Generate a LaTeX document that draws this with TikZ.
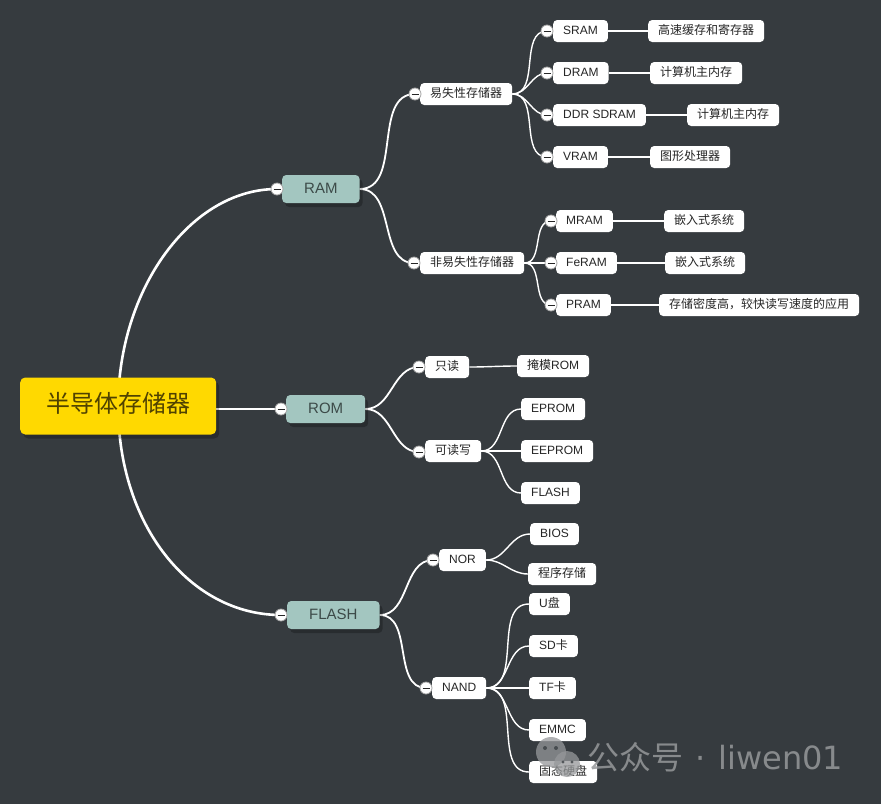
\documentclass[tikz,border=0pt]{standalone}
\usepackage{fontspec}
\setmainfont{Liberation Sans}
\newfontfamily\cjk{Noto Sans CJK SC}
\newfontfamily\dejavu{DejaVu Sans}
\usetikzlibrary{shadows}
\newcommand\zhtext[1]{{\cjk #1}}
\definecolor{bgcol}{RGB}{54,59,63}
\definecolor{tealfill}{RGB}{163,198,192}
\definecolor{tealtext}{RGB}{60,74,72}
\definecolor{rootfill}{RGB}{255,217,0}
\definecolor{roottext}{RGB}{80,66,0}
\definecolor{wmcol}{RGB}{150,152,154}
\pgfdeclarelayer{bg}
\pgfdeclarelayer{edges}
\pgfsetlayers{bg,edges,main}
\begin{document}
\begin{tikzpicture}[x=1pt,y=-1pt,
  wbox/.style={fill=white,rounded corners=4pt,minimum height=22pt,inner xsep=10pt,inner ysep=0pt,
    text height=9pt,text depth=2.5pt,font=\fontsize{12}{14}\selectfont,text=black!85,anchor=west},
  tbox/.style={fill=tealfill,rounded corners=4pt,minimum height=28pt,inner xsep=22pt,inner ysep=0pt,
    text height=11pt,text depth=3pt,font=\fontsize{15}{18}\selectfont,text=tealtext,anchor=west,
    drop shadow={shadow xshift=3pt,shadow yshift=-4pt,fill=black,opacity=0.25}},
  rootbox/.style={fill=rootfill,rounded corners=5pt,minimum height=57pt,inner xsep=26pt,inner ysep=0pt,
    text height=18pt,text depth=5pt,font=\cjk\fontsize{24}{28}\selectfont,text=roottext,anchor=west,
    drop shadow={shadow xshift=3pt,shadow yshift=-4pt,fill=black,opacity=0.25}},
  coll/.style={circle,fill=white,draw=gray!70,line width=0.8pt,minimum size=12pt,inner sep=0pt,
    path picture={\draw[gray!30!black,line width=1pt] ([xshift=-3.5pt]path picture bounding box.center) -- ([xshift=3.5pt]path picture bounding box.center);}},
  e1/.style={draw=white,line width=2.6pt},
  e2/.style={draw=white,line width=1.8pt,out=0,in=180},
  e3/.style={draw=white,line width=1.4pt,out=0,in=180},
]
\begin{pgfonlayer}{bg}
\fill[bgcol] (0,0) rectangle (881,804);
\end{pgfonlayer}
\useasboundingbox (0,0) rectangle (881,804);

% root
\node[rootbox] (root) at (20,406) {半导体存储器};

% level 1
\node[tbox] (RAM) at (282,189) {RAM};
\node[coll] (cRAM) at (277,189) {};
\node[tbox] (ROM) at (286,409) {ROM};
\node[coll] (cROM) at (281,409) {};
\node[tbox] (FLASH) at (287,615) {FLASH};
\node[coll] (cFLASH) at (281,615) {};

% level 2
\node[wbox] (vol) at (420,94) {\zhtext{易失性存储器}};
\node[coll] (cvol) at (415,94) {};
\node[wbox] (nvol) at (420,263) {\zhtext{非易失性存储器}};
\node[coll] (cnvol) at (414,263) {};
\node[wbox] (ro) at (425,367) {\zhtext{只读}};
\node[coll] (cro) at (419,367) {};
\node[wbox] (rw) at (425,451) {\zhtext{可读写}};
\node[coll] (crw) at (419,452) {};
\node[wbox] (nor) at (439,560) {NOR};
\node[coll] (cnor) at (433,560) {};
\node[wbox] (nand) at (432,688) {NAND};
\node[coll] (cnand) at (426,688) {};

% level 3
\node[wbox] (sram) at (553,31) {SRAM};
\node[coll] (csram) at (547,31) {};
\node[wbox] (dram) at (553,73) {DRAM};
\node[coll] (cdram) at (547,73) {};
\node[wbox] (ddr) at (553,115) {DDR SDRAM};
\node[coll] (cddr) at (547,115) {};
\node[wbox] (vram) at (553,157) {VRAM};
\node[coll] (cvram) at (547,157) {};
\node[wbox] (mram) at (556,221) {MRAM};
\node[coll] (cmram) at (551,221) {};
\node[wbox] (feram) at (556,263) {FeRAM};
\node[coll] (cferam) at (551,263) {};
\node[wbox] (pram) at (556,305) {PRAM};
\node[coll] (cpram) at (551,305) {};
\node[wbox] (mask) at (517,366) {\zhtext{掩模}ROM};
\node[wbox] (eprom) at (521,409) {EPROM};
\node[wbox] (eeprom) at (521,451) {EEPROM};
\node[wbox] (flashb) at (521,493) {FLASH};
\node[wbox] (bios) at (530,534) {BIOS};
\node[wbox] (prog) at (528,574) {\zhtext{程序存储}};
\node[wbox] (udisk) at (529,604) {U\zhtext{盘}};
\node[wbox] (sd) at (529,646) {SD\zhtext{卡}};
\node[wbox] (tf) at (529,688) {TF\zhtext{卡}};
\node[wbox] (emmc) at (529,730) {EMMC};
\node[wbox] (ssd) at (529,772) {\zhtext{固态硬盘}};

% level 4
\node[wbox] (l1) at (648,31) {\zhtext{高速缓存和寄存器}};
\node[wbox] (l2) at (650,73) {\zhtext{计算机主内存}};
\node[wbox] (l3) at (687,115) {\zhtext{计算机主内存}};
\node[wbox] (l4) at (650,157) {\zhtext{图形处理器}};
\node[wbox] (l5) at (664,221) {\zhtext{嵌入式系统}};
\node[wbox] (l6) at (665,263) {\zhtext{嵌入式系统}};
\node[wbox] (l7) at (659,305) {\zhtext{存储密度高，较快读写速度的应用}};

% connectors
\begin{pgfonlayer}{edges}
\draw[e1] (root.center) .. controls (118,290) and (190,189) .. (cRAM.center);
\draw[e1] (root.east |- cROM) -- (cROM.center);
\draw[e1] (root.center) .. controls (118,525) and (190,615) .. (cFLASH.center);

\draw[e2] (RAM.east) to (cvol.center);
\draw[e2] (RAM.east) to (cnvol.center);
\draw[e2] (ROM.east) to (cro.center);
\draw[e2] (ROM.east) to (crw.center);
\draw[e2] (FLASH.east) to (cnor.center);
\draw[e2] (FLASH.east) to (cnand.center);

\foreach \c in {csram,cdram,cddr,cvram}{\draw[e3] (vol.east) to (\c.center);}
\foreach \c in {cmram,cferam,cpram}{\draw[e3] (nvol.east) to (\c.center);}
\draw[e3] (ro.east) to (mask.west);
\foreach \c in {eprom,eeprom,flashb}{\draw[e3] (rw.east) to (\c.west);}
\foreach \c in {bios,prog}{\draw[e3] (nor.east) to (\c.west);}
\foreach \c in {udisk,sd,tf,emmc,ssd}{\draw[e3] (nand.east) to (\c.west);}

\draw[e3] (sram.east) -- (l1.west);
\draw[e3] (dram.east) -- (l2.west);
\draw[e3] (ddr.east) -- (l3.west);
\draw[e3] (vram.east) -- (l4.west);
\draw[e3] (mram.east) -- (l5.west);
\draw[e3] (feram.east) -- (l6.west);
\draw[e3] (pram.east) -- (l7.west);
\end{pgfonlayer}

% watermark
\begin{scope}[opacity=0.75]
\fill[wmcol] (551,752) circle (15);
\fill[wmcol] (567,764) circle (13);
\fill[bgcol] (545,748) circle (2);
\fill[bgcol] (556,748) circle (2);
\fill[bgcol] (563,762) circle (1.6);
\fill[bgcol] (572,762) circle (1.6);
\end{scope}
\node[anchor=west,text=wmcol,opacity=0.85,inner sep=0pt,font=\fontsize{32}{32}\selectfont] (wm) at (587,757)
  {{\cjk 公众号}\hspace{12pt}{\dejavu ·}\hspace{13pt}{\dejavu liwen01}};
\end{tikzpicture}
\end{document}
